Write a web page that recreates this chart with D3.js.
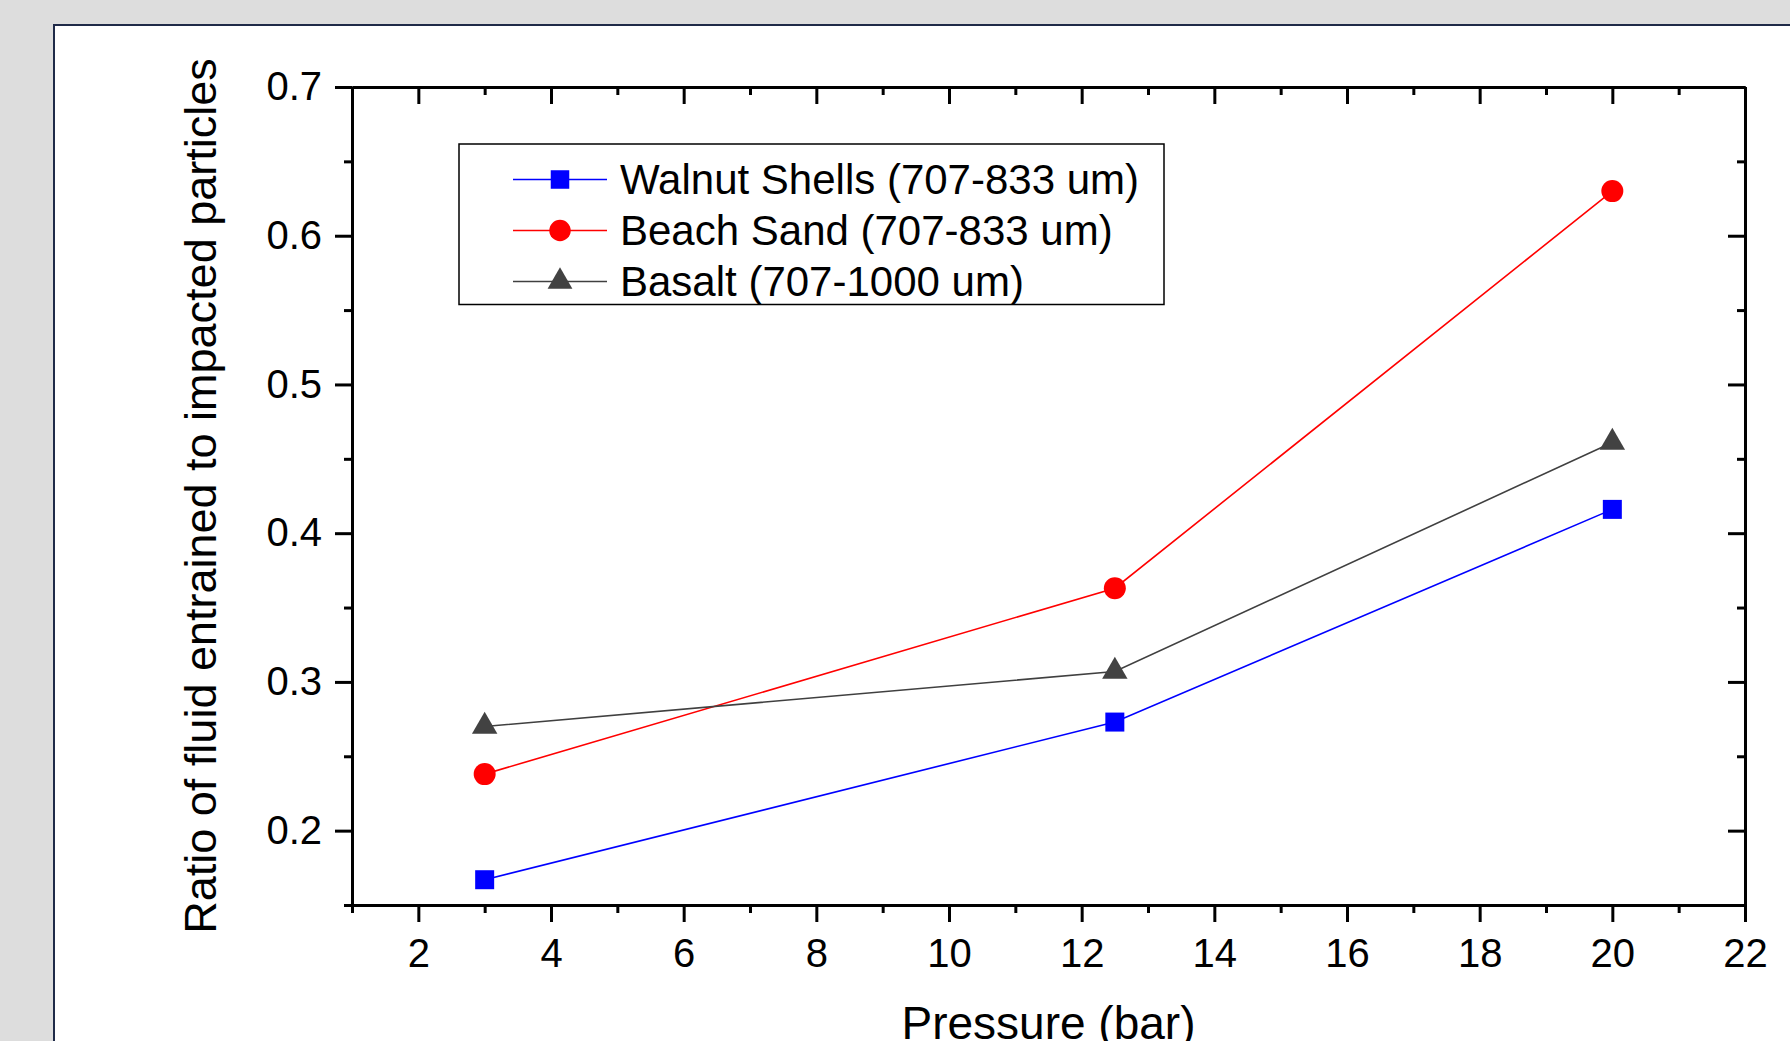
<!DOCTYPE html>
<html>
<head>
<meta charset="utf-8">
<script src="https://cdn.jsdelivr.net/npm/d3@7"></script>
<style>
    body { margin: 0; background: #dddddd; }
    svg { display: block; font-family: "Liberation Sans", Arial, sans-serif; }
</style>
</head>
<body>
<div id="chart"></div>
<script>
// data
const pressure = [3, 12.5, 20];
const walnutShells = [0.167, 0.273, 0.416];
const beachSand = [0.238, 0.363, 0.630];
const basalt = [0.270, 0.307, 0.461];

const seriesNames = ["Walnut Shells (707-833 um)", "Beach Sand (707-833 um)", "Basalt (707-1000 um)"];
const xMajorTicks = [2, 4, 6, 8, 10, 12, 14, 16, 18, 20, 22];
const xMinorTicks = [1, 3, 5, 7, 9, 11, 13, 15, 17, 19, 21];
const yMajorTicks = [0.2, 0.3, 0.4, 0.5, 0.6, 0.7];
const yMinorTicks = [0.15, 0.25, 0.35, 0.45, 0.55, 0.65];

const series = [
    {name: seriesNames[0], values: walnutShells, color: "#0000ff", fill: "#0000ff", symbol: d3.symbolSquare, size: 361},
    {name: seriesNames[1], values: beachSand, color: "#ff0000", fill: "#ff0000", symbol: d3.symbolCircle, size: 380},
    {name: seriesNames[2], values: basalt, color: "#404040", fill: "#424242", symbol: d3.symbolTriangle, size: 280}
];

const W = 1790, H = 1041;
const plot = {left: 352, right: 1745, top: 87, bottom: 905};

const svg = d3.select("#chart").append("svg")
    .attr("width", W)
    .attr("height", H);

// white panel with navy frame
svg.append("rect")
    .attr("x", 54).attr("y", 25)
    .attr("width", W).attr("height", H)
    .attr("fill", "#ffffff")
    .attr("stroke", "#1f2a48")
    .attr("stroke-width", 2);

const x = d3.scaleLinear().domain([1, 22]).range([plot.left, plot.right]);
const y = d3.scaleLinear().domain([0.15, 0.7]).range([plot.bottom, plot.top]);

const MAJ = 17, MIN = 8;

function styleAxis(g) {
    g.selectAll("path.domain").attr("stroke", "#000").attr("stroke-width", 3);
    g.selectAll(".tick line").attr("stroke", "#000").attr("stroke-width", 3);
    g.selectAll(".tick text").attr("fill", "#000").attr("font-size", 40)
        .attr("font-family", "'Liberation Sans', Arial, sans-serif");
}

// bottom axis, outward ticks with labels
const gx = svg.append("g").attr("transform", `translate(0,${plot.bottom})`)
    .call(d3.axisBottom(x).tickValues(xMajorTicks).tickSize(MAJ).tickSizeOuter(0).tickPadding(17).tickFormat(d3.format("d")));
styleAxis(gx);
const gxm = svg.append("g").attr("transform", `translate(0,${plot.bottom})`)
    .call(d3.axisBottom(x).tickValues(xMinorTicks).tickSize(MIN).tickSizeOuter(0).tickFormat(""));
styleAxis(gxm);

// top axis, inward ticks
const gt = svg.append("g").attr("transform", `translate(0,${plot.top})`)
    .call(d3.axisBottom(x).tickValues(xMajorTicks).tickSize(MAJ).tickSizeOuter(0).tickFormat(""));
styleAxis(gt);
const gtm = svg.append("g").attr("transform", `translate(0,${plot.top})`)
    .call(d3.axisBottom(x).tickValues(xMinorTicks).tickSize(MIN).tickSizeOuter(0).tickFormat(""));
styleAxis(gtm);

// left axis, outward ticks with labels
const gy = svg.append("g").attr("transform", `translate(${plot.left},0)`)
    .call(d3.axisLeft(y).tickValues(yMajorTicks).tickSize(MAJ).tickSizeOuter(0).tickPadding(13).tickFormat(d3.format(".1f")));
styleAxis(gy);
const gym = svg.append("g").attr("transform", `translate(${plot.left},0)`)
    .call(d3.axisLeft(y).tickValues(yMinorTicks).tickSize(MIN).tickSizeOuter(0).tickFormat(""));
styleAxis(gym);

// right axis, inward ticks
const gr = svg.append("g").attr("transform", `translate(${plot.right},0)`)
    .call(d3.axisLeft(y).tickValues(yMajorTicks).tickSize(MAJ).tickSizeOuter(0).tickFormat(""));
styleAxis(gr);
const grm = svg.append("g").attr("transform", `translate(${plot.right},0)`)
    .call(d3.axisLeft(y).tickValues(yMinorTicks).tickSize(MIN).tickSizeOuter(0).tickFormat(""));
styleAxis(grm);

// axis titles
svg.append("text")
    .attr("x", (plot.left + plot.right) / 2)
    .attr("y", 1039)
    .attr("text-anchor", "middle")
    .attr("font-size", 46)
    .text("Pressure (bar)");

svg.append("text")
    .attr("transform", `translate(216,${(plot.top + plot.bottom) / 2}) rotate(-90)`)
    .attr("text-anchor", "middle")
    .attr("font-size", 45)
    .text("Ratio of fluid entrained to impacted particles");

// lines and markers
const line = d3.line()
    .x((d, i) => x(pressure[i]))
    .y(d => y(d));

series.forEach(s => {
    svg.append("path")
        .datum(s.values)
        .attr("fill", "none")
        .attr("stroke", s.color)
        .attr("stroke-width", 1.6)
        .attr("d", line);

    svg.append("g").selectAll("path")
        .data(s.values)
        .enter().append("path")
        .attr("transform", (d, i) => `translate(${x(pressure[i])},${y(d)})`)
        .attr("d", d3.symbol().type(s.symbol).size(s.size))
        .attr("fill", s.fill);
});

// legend
const legend = svg.append("g");
legend.append("rect")
    .attr("x", 459).attr("y", 144)
    .attr("width", 705).attr("height", 160.5)
    .attr("fill", "#fff")
    .attr("stroke", "#000")
    .attr("stroke-width", 1.5);

const rowY = [179.5, 230.5, 281.5];
series.forEach((s, i) => {
    legend.append("line")
        .attr("x1", 513).attr("x2", 607)
        .attr("y1", rowY[i]).attr("y2", rowY[i])
        .attr("stroke", s.color)
        .attr("stroke-width", 1.6);
    legend.append("path")
        .attr("transform", `translate(560,${rowY[i]})`)
        .attr("d", d3.symbol().type(s.symbol).size(s.size * 0.95))
        .attr("fill", s.fill);
    legend.append("text")
        .attr("x", 620)
        .attr("y", rowY[i] + 14.5)
        .attr("font-size", 42)
        .text(s.name);
});
</script>
</body>
</html>
